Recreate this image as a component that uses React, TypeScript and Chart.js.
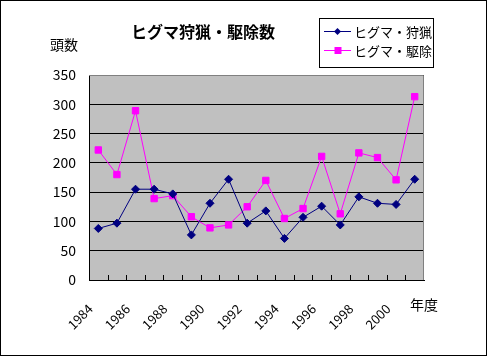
import { useEffect, useRef } from 'react';
import { Chart, registerables } from 'chart.js';

Chart.register(...registerables);

const years = ['1984', '1985', '1986', '1987', '1988', '1989', '1990', '1991', '1992', '1993', '1994', '1995', '1996', '1997', '1998', '1999', '2000', '2001'];
const huntingValues = [88, 97, 155, 155, 147, 77, 131, 172, 97, 118, 71, 107, 126, 94, 142, 131, 129, 172];
const cullingValues = [222, 180, 289, 139, 144, 108, 89, 94, 125, 170, 105, 122, 211, 113, 217, 209, 171, 313];
const huntingLabel = 'ヒグマ・狩猟';
const cullingLabel = 'ヒグマ・駆除';
const titleText = 'ヒグマ狩猟・駆除数';
const yAxisTitle = '頭数';
const xAxisTitle = '年度';
const yMax = 350;
const yStep = 50;

const FONT = '"Noto Sans CJK JP", "MS PGothic", sans-serif';

const decorPlugin = {
  id: 'decor',
  beforeDraw(chart: any) {
    const { ctx, chartArea: a } = chart;
    ctx.save();
    ctx.fillStyle = '#ffffff';
    ctx.fillRect(0, 0, chart.width, chart.height);
    ctx.fillStyle = '#C0C0C0';
    ctx.fillRect(a.left, a.top, a.right - a.left, a.bottom - a.top);
    ctx.restore();
  },
  beforeDatasetsDraw(chart: any) {
    const { ctx, chartArea: a } = chart;
    ctx.save();
    ctx.strokeStyle = '#808080';
    ctx.lineWidth = 1;
    ctx.beginPath();
    ctx.moveTo(a.left, a.top + 0.5);
    ctx.lineTo(a.right - 0.5, a.top + 0.5);
    ctx.lineTo(a.right - 0.5, a.bottom);
    ctx.stroke();
    // inner tick marks on x axis at category boundaries
    const n = chart.data.labels.length;
    const w = (a.right - a.left) / n;
    ctx.strokeStyle = '#000000';
    ctx.beginPath();
    for (let i = 1; i < n; i++) {
      const x = Math.round(a.left + i * w) + 0.5;
      ctx.moveTo(x, a.bottom);
      ctx.lineTo(x, a.bottom - 5);
    }
    ctx.stroke();
    ctx.restore();
  },
  afterDraw(chart: any) {
    const { ctx } = chart;
    ctx.save();
    // outer border
    ctx.strokeStyle = '#000000';
    ctx.lineWidth = 1;
    ctx.strokeRect(0.5, 0.5, chart.width - 2, chart.height - 1);
    // title
    ctx.fillStyle = '#000000';
    ctx.textBaseline = 'middle';
    ctx.textAlign = 'center';
    ctx.font = `bold 16px ${FONT}`;
    ctx.fillText(titleText, 203, 32);
    ctx.font = `14px ${FONT}`;
    ctx.fillText(yAxisTitle, 64, 45);
    ctx.fillText(xAxisTitle, 424, 305);
    // legend
    ctx.strokeRect(319.5, 18.5, 114, 49);
    const ds = chart.data.datasets;
    const rows = [31, 50];
    ds.forEach((d: any, i: number) => {
      const y = rows[i];
      ctx.strokeStyle = d.borderColor;
      ctx.lineWidth = 1;
      ctx.beginPath();
      ctx.moveTo(324, y + 0.5);
      ctx.lineTo(351, y + 0.5);
      ctx.stroke();
      ctx.fillStyle = d.backgroundColor;
      ctx.beginPath();
      if (d.pointStyle === 'rectRot') {
        ctx.moveTo(337.5 - 3.5, y + 0.5);
        ctx.lineTo(337.5, y + 0.5 - 3.5);
        ctx.lineTo(337.5 + 3.5, y + 0.5);
        ctx.lineTo(337.5, y + 0.5 + 3.5);
        ctx.closePath();
      } else {
        ctx.rect(334.5, y - 3, 7, 7);
      }
      ctx.fill();
      ctx.fillStyle = '#000000';
      ctx.textAlign = 'left';
      ctx.font = `13px ${FONT}`;
      ctx.fillText(d.label, 354, y + 1);
    });
    ctx.restore();
  },
};

export default function App() {
  const ref = useRef<HTMLCanvasElement | null>(null);
  useEffect(() => {
    if (!ref.current) return;
    const chart = new Chart(ref.current, {
      type: 'line',
      data: {
        labels: years,
        datasets: [
          {
            label: huntingLabel,
            data: huntingValues,
            borderColor: '#000080',
            backgroundColor: '#000080',
            borderWidth: 1,
            pointStyle: 'rectRot',
            pointRadius: 4,
            pointBorderWidth: 1,
            tension: 0,
          },
          {
            label: cullingLabel,
            data: cullingValues,
            borderColor: '#FF00FF',
            backgroundColor: '#FF00FF',
            borderWidth: 1,
            pointStyle: 'rect',
            pointRadius: 4.5,
            pointBorderWidth: 1,
            tension: 0,
          },
        ],
      },
      options: {
        responsive: false,
        animation: false,
        devicePixelRatio: 1,
        layout: { padding: { top: 75, right: 64, left: 0, bottom: 0 } },
        plugins: {
          legend: { display: false },
          title: { display: false },
          tooltip: { enabled: false },
        },
        scales: {
          x: {
            offset: true,
            grid: { display: false, offset: true },
            border: { color: '#000000', width: 1 },
            ticks: {
              autoSkip: false,
              minRotation: 45,
              maxRotation: 45,
              color: '#000000',
              padding: 13,
              labelOffset: -8,
              font: { family: FONT, size: 13 },
              callback: (_v: any, i: number) => (i % 2 === 0 ? years[i] : ''),
            },
            afterFit: (s: any) => {
              s.height = 76;
            },
          },
          y: {
            min: 0,
            max: yMax,
            grid: { color: '#000000', drawTicks: false, lineWidth: 1 },
            border: { color: '#000000', width: 1 },
            ticks: {
              stepSize: yStep,
              color: '#000000',
              padding: 13,
              font: { family: FONT, size: 14 },
            },
            afterFit: (s: any) => {
              s.width = 89;
            },
          },
        },
      },
      plugins: [decorPlugin],
    });
    return () => chart.destroy();
  }, []);
  return (
    <div style={{ position: 'absolute', left: 0, top: 0, width: 488, height: 356 }}>
      <canvas ref={ref} width={488} height={356} style={{ display: 'block' }} />
    </div>
  );
}
